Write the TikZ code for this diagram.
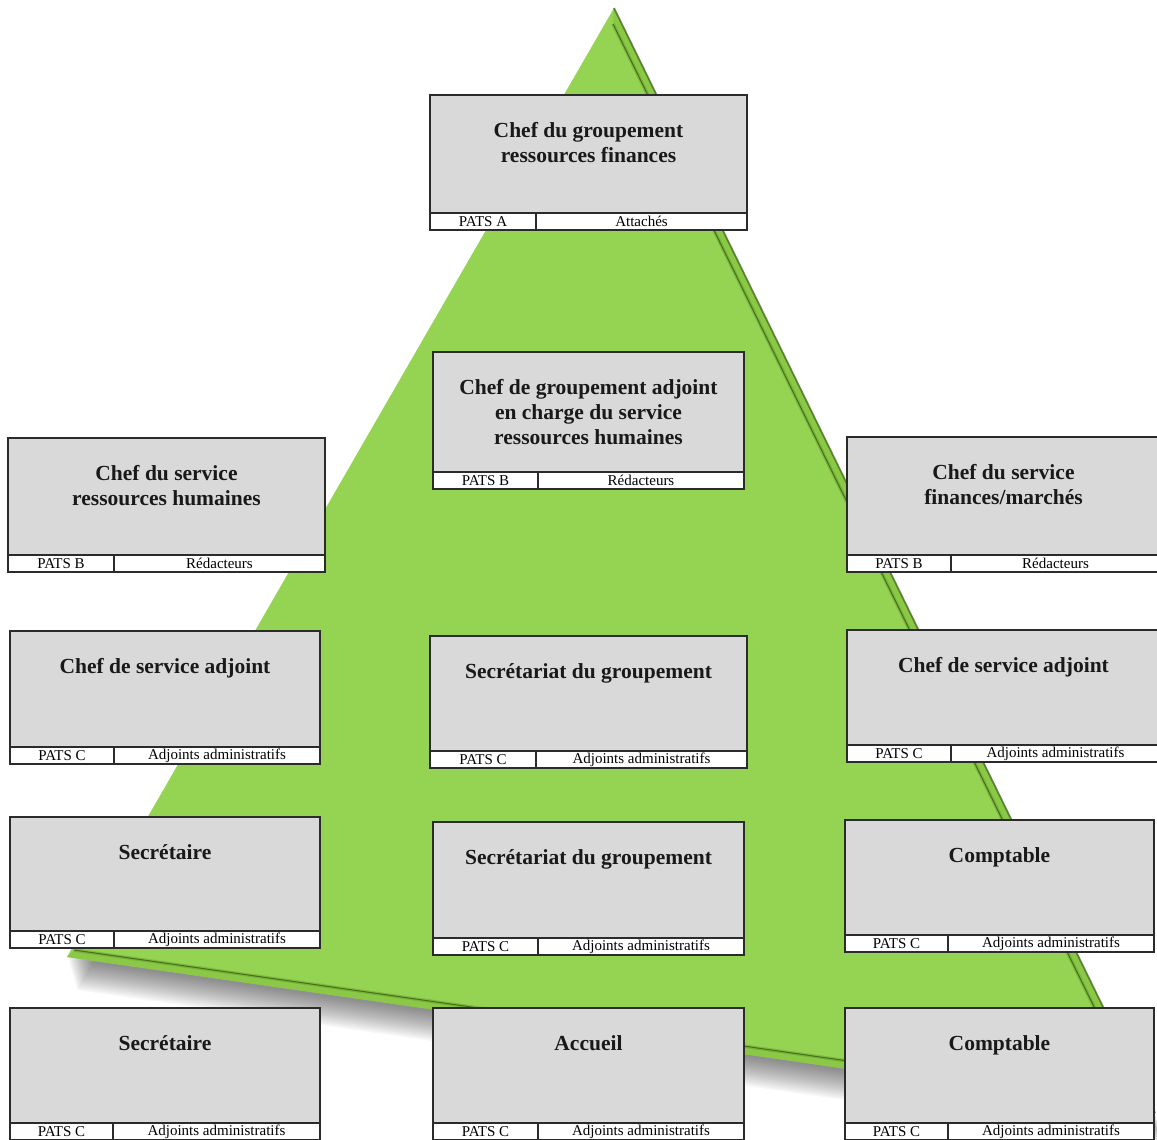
\documentclass[tikz,border=0pt]{standalone}
\usepackage{fontspec}
\setmainfont{Liberation Serif}
\definecolor{pgreen}{HTML}{95D452}
\definecolor{pgreenstrip}{HTML}{8BC846}
\definecolor{pgreendark}{HTML}{3F6A17}
\definecolor{boxgray}{HTML}{D9D9D9}
\definecolor{boxline}{HTML}{2B2B2B}
\tikzset{
  orgframe/.style={draw=boxline, line width=1.3pt, fill=boxgray, inner sep=0pt, outer sep=0pt},
  rowcell/.style={draw=boxline, line width=1.3pt, fill=white},
  rowline/.style={draw=boxline, line width=1.3pt},
  titletext/.style={font=\bfseries\fontsize{21.5}{25}\selectfont, align=center, inner sep=0pt, text=black!90},
  celltext/.style={font=\fontsize{15}{16}\selectfont, inner sep=0pt, text=black}
}
% #1 name, #2 x1, #3 y1, #4 x2, #5 y2, #6 xdiv, #7 title, #8 left cell, #9 right cell
\newcommand{\orgbox}[9]{%
  \node[orgframe, anchor=north west, minimum width=#4pt-#2pt, minimum height=#5pt-#3pt] (#1) at (#2,#3) {};
  \draw[rowcell] ([yshift=17pt]#1.south west) rectangle (#1.south east);
  \coordinate (#1-d) at (#6,#5);
  \draw[rowline] (#1-d) -- ++(0,-17);
  \node[titletext, anchor=north] (#1-t) at ({(#2+#4)/2},{#3+27}) {#7};
  \node[celltext] (#1-l) at ({(#2+#6)/2},{#5-8.5}) {#8};
  \node[celltext] (#1-r) at ({(#6+#4)/2},{#5-8.5}) {#9};
}
\begin{document}
\begin{tikzpicture}[x=1pt,y=-1pt]
\useasboundingbox (0,0) rectangle (1157,1140);
% pyramid
\coordinate (A) at (614,8);
\coordinate (L) at (67,957);
\coordinate (R) at (1155,1113);
\coordinate (Ai) at (613,24);
\coordinate (Li) at (74,950);
\coordinate (Ri) at (1141,1103);
\foreach \dy in {3,5,...,33}{
  \fill[black, opacity=0.035] ([shift={(0.3*\dy,\dy)}]A) -- ([shift={(0.3*\dy,\dy)}]L) -- ([shift={(0.3*\dy,\dy)}]R) -- cycle;
}
\fill[pgreen] (A) -- (L) -- (R) -- cycle;
\fill[pgreenstrip] (A) -- (R) -- (L) -- (Li) -- (Ri) -- (Ai) -- cycle;
\draw[pgreendark, line width=3.5pt, opacity=0.25] (Li) -- (Ri) -- (Ai);
\draw[pgreendark, line width=1pt, opacity=0.9] (Li) -- (Ri) -- (Ai);
\draw[pgreendark, line width=1.8pt, opacity=0.75] (A) -- (R);
% boxes
\orgbox{b1}{430}{95}{747}{230}{536}{Chef du groupement\\ressources finances}{PATS A}{Attachés}
\orgbox{b2}{433}{352}{744}{489}{538}{Chef de groupement adjoint\\en charge du service\\ressources humaines}{PATS B}{Rédacteurs}
\orgbox{b3}{8}{438}{325}{572}{114}{Chef du service\\ressources humaines}{PATS B}{Rédacteurs}
\orgbox{b4}{847}{437}{1160}{572}{951}{Chef du service\\finances/marchés}{PATS B}{Rédacteurs}
\orgbox{b5}{10}{631}{320}{764}{114}{Chef de service adjoint}{PATS C}{Adjoints administratifs}
\orgbox{b6}{430}{636}{747}{768}{536}{Secrétariat du groupement}{PATS C}{Adjoints administratifs}
\orgbox{b7}{847}{630}{1160}{762}{951}{Chef de service adjoint}{PATS C}{Adjoints administratifs}
\orgbox{b8}{10}{817}{320}{948}{114}{Secrétaire}{PATS C}{Adjoints administratifs}
\orgbox{b9}{433}{822}{744}{955}{538}{Secrétariat du groupement}{PATS C}{Adjoints administratifs}
\orgbox{b10}{845}{820}{1154}{952}{948}{Comptable}{PATS C}{Adjoints administratifs}
\orgbox{b11}{10}{1008}{320}{1140}{113}{Secrétaire}{PATS C}{Adjoints administratifs}
\orgbox{b12}{433}{1008}{744}{1140}{538}{Accueil}{PATS C}{Adjoints administratifs}
\orgbox{b13}{845}{1008}{1154}{1140}{948}{Comptable}{PATS C}{Adjoints administratifs}
\end{tikzpicture}
\end{document}
